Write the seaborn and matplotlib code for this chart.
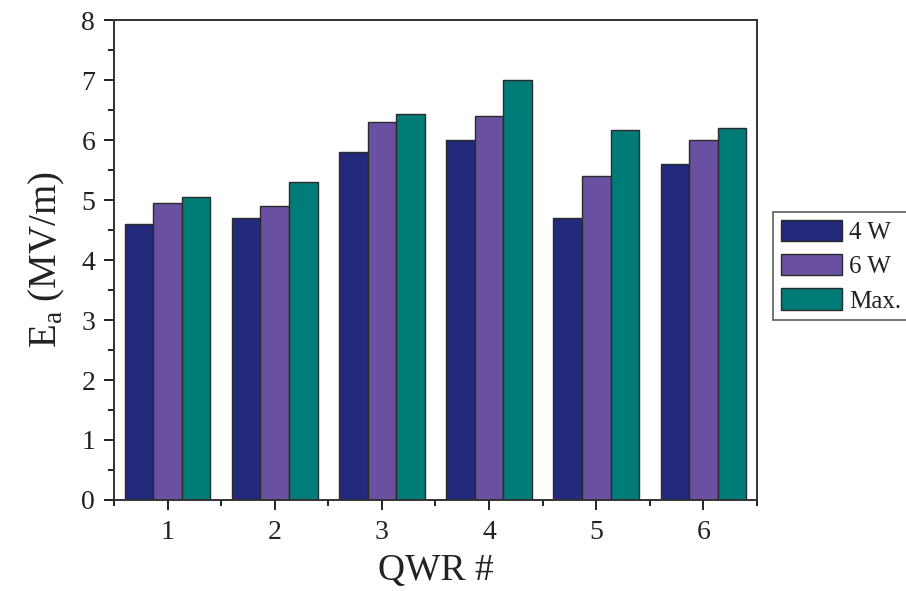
import numpy as np
import pandas as pd
import matplotlib
matplotlib.use("Agg")
import matplotlib.pyplot as plt
import seaborn as sns
from matplotlib.ticker import MultipleLocator, FixedLocator

categories = ["1", "2", "3", "4", "5", "6"]
series_names = ["4 W", "6 W", "Max."]
vals_4w = [4.6, 4.7, 5.8, 6.0, 4.7, 5.6]
vals_6w = [4.95, 4.9, 6.3, 6.4, 5.4, 6.0]
vals_max = [5.05, 5.3, 6.43, 7.0, 6.17, 6.2]
colors = ["#232A7B", "#6A50A0", "#007C78"]

df = pd.DataFrame({
    "QWR": categories * 3,
    "Ea": vals_4w + vals_6w + vals_max,
    "Series": [series_names[0]] * 6 + [series_names[1]] * 6 + [series_names[2]] * 6,
})

sns.set_style("ticks")
plt.rcParams["font.family"] = ["Liberation Serif", "DejaVu Serif"]

fig = plt.figure(figsize=(9.06, 5.91), dpi=100)
ax = fig.add_axes([0.1258, 0.154, 0.7097, 0.812])

sns.barplot(data=df, x="QWR", y="Ea", hue="Series", palette=colors,
            order=categories, hue_order=series_names, width=0.8,
            edgecolor="#2a2a2a", linewidth=1.0, saturation=1, ax=ax)

ax.set_xlim(-0.5, 5.5)
ax.set_ylim(0, 8)
ax.yaxis.set_major_locator(MultipleLocator(1))
ax.yaxis.set_minor_locator(MultipleLocator(0.5))
ax.xaxis.set_minor_locator(FixedLocator(np.arange(-0.5, 5.6, 1.0)))
ax.tick_params(axis="both", which="major", direction="out", length=7.5, width=1.4,
               labelsize=20, colors="#222222")
ax.tick_params(axis="x", which="major", pad=7)
ax.tick_params(axis="y", which="major", pad=6)
ax.tick_params(axis="both", which="minor", direction="out", length=4, width=1.4,
               colors="#222222")
for s in ax.spines.values():
    s.set_visible(True)
    s.set_linewidth(1.4)
    s.set_color("#333333")

ax.set_xlabel("QWR #", fontsize=27, labelpad=6, color="#222222")
ax.set_ylabel(r"E$_\mathregular{a}$ (MV/m)", fontsize=28, labelpad=10, color="#222222")

leg = ax.legend(loc="upper left", bbox_to_anchor=(1.025, 0.6), fontsize=18,
                frameon=True, fancybox=False, edgecolor="#444444",
                handlelength=2.45, handleheight=0.95, handletextpad=0.3,
                borderpad=0.3, labelspacing=0.4, borderaxespad=0)
leg.get_frame().set_linewidth(1.3)
for t in leg.get_texts():
    t.set_color("#222222")

fig.savefig("out.png", dpi=100)
